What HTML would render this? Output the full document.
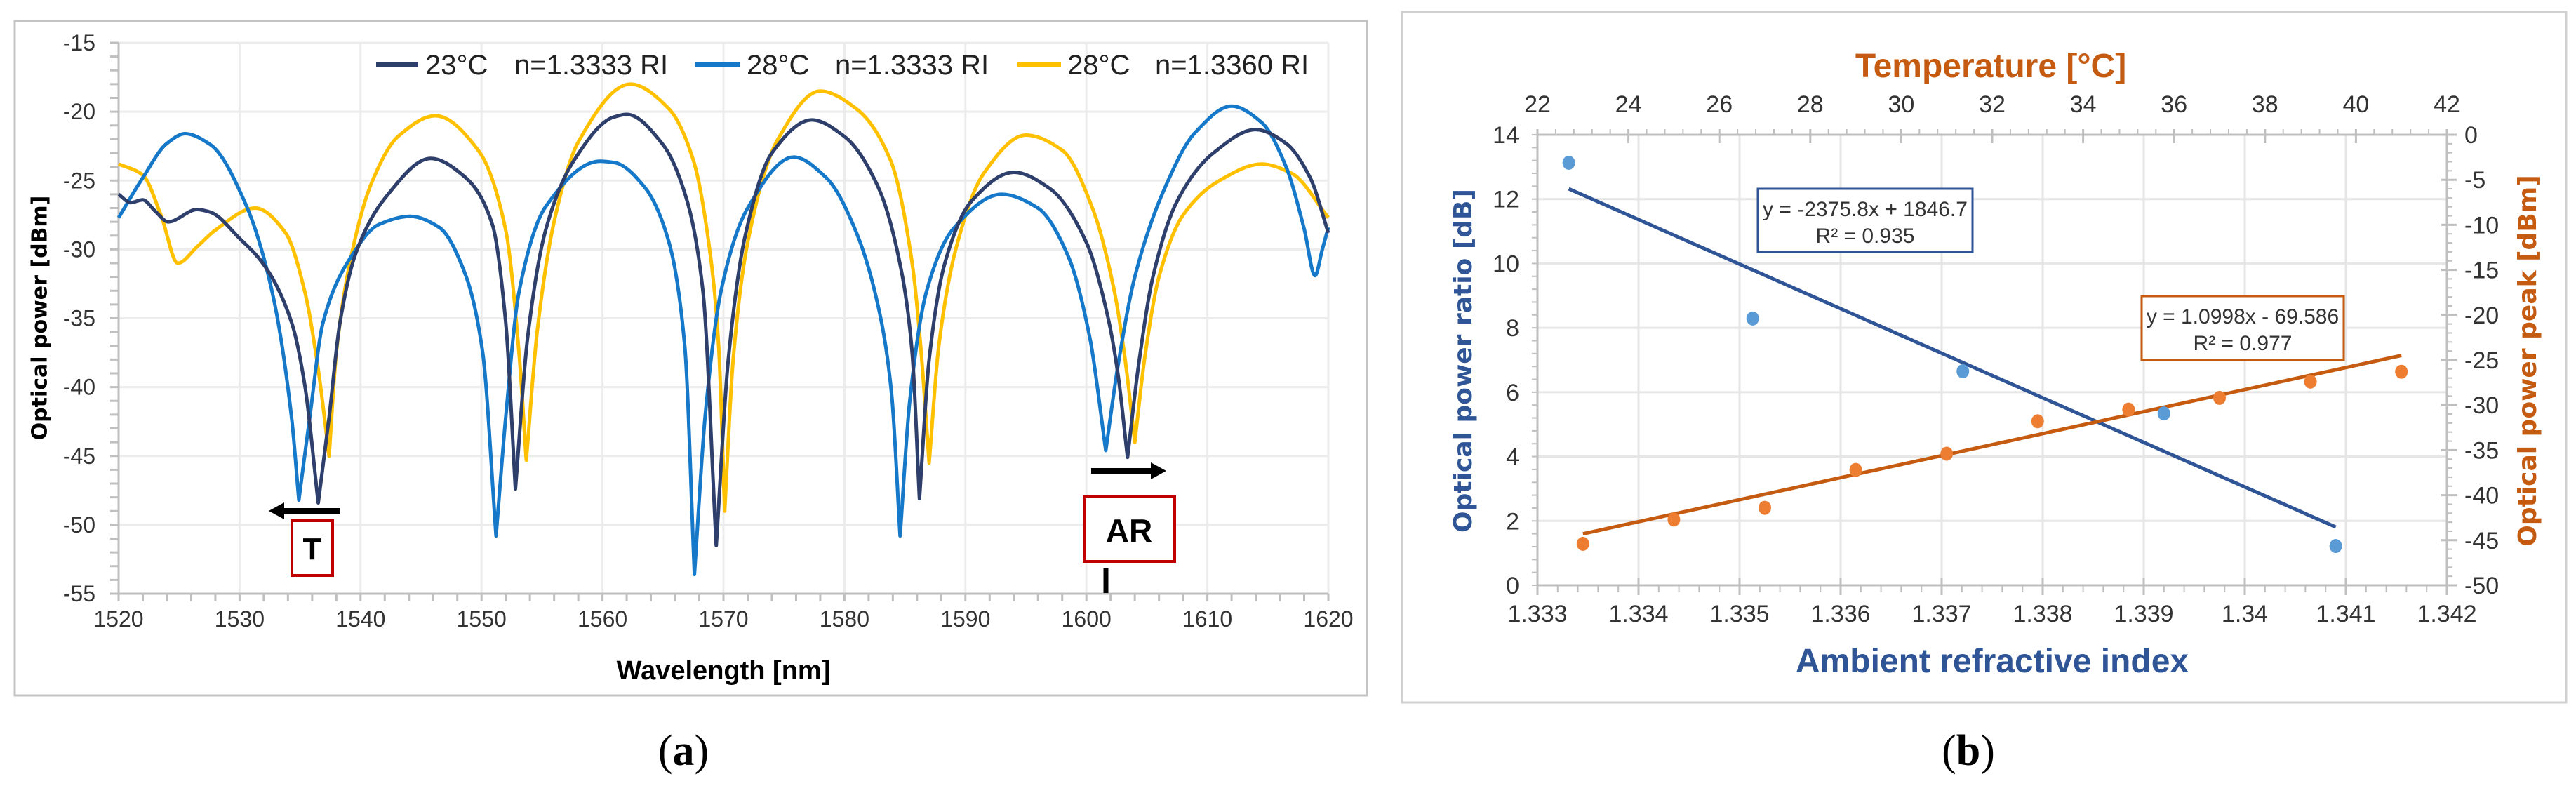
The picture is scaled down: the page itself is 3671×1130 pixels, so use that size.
<!DOCTYPE html>
<html><head><meta charset="utf-8"><style>
html,body{margin:0;padding:0;background:#fff;}
svg{display:block;}
text{font-family:"Liberation Sans Narrow","Liberation Sans",sans-serif;}
</style></head><body>
<svg id="fig" width="3671" height="1130" viewBox="0 0 3671 1130" xmlns="http://www.w3.org/2000/svg">
<rect x="0" y="0" width="3671" height="1130" fill="#fff"/>
<g id="pa">
<rect x="21" y="30" width="1927" height="961" fill="#fff" stroke="#c4c4c4" stroke-width="3"/>
<g id="pa-grid"></g>
<g id="pa-axes"></g>
<g id="pa-series"></g>
<text x="58" y="453" transform="rotate(-90 58 453)" text-anchor="middle" dominant-baseline="middle" style="font-family:'DejaVu Sans',sans-serif;font-weight:bold;font-size:30px" fill="#000">Optical power [dBm]</text>
<text x="1031" y="968" text-anchor="middle" style="font-weight:bold;font-size:38px" fill="#000">Wavelength [nm]</text>
<g style="font-size:40px" fill="#222">
<g><line x1="536" y1="92" x2="596" y2="92" stroke="#2E3F6B" stroke-width="6"/><text x="606" y="106">23°C</text><text x="733" y="106">n=1.3333 RI</text></g>
<g><line x1="991" y1="92" x2="1054" y2="92" stroke="#1578C8" stroke-width="6"/><text x="1064" y="106">28°C</text><text x="1190" y="106">n=1.3333 RI</text></g>
<g><line x1="1450" y1="92" x2="1512" y2="92" stroke="#FFC000" stroke-width="6"/><text x="1521" y="106">28°C</text><text x="1646" y="106">n=1.3360 RI</text></g>
</g>
<g>
<line x1="485" y1="728" x2="400" y2="728" stroke="#000" stroke-width="8"/>
<polygon points="383,728 405,716 405,740" fill="#000"/>
<rect x="416" y="742" width="58" height="78" fill="#fff" stroke="#C00000" stroke-width="4"/>
<text x="445" y="797" text-anchor="middle" style="font-weight:bold;font-size:44px" fill="#000">T</text>
</g>
<g>
<line x1="1555" y1="671" x2="1645" y2="671" stroke="#000" stroke-width="8"/>
<polygon points="1662,671 1640,659 1640,683" fill="#000"/>
<rect x="1545" y="708" width="129" height="92" fill="#fff" stroke="#C00000" stroke-width="4"/>
<text x="1609" y="772" text-anchor="middle" style="font-weight:bold;font-size:46px" fill="#000">AR</text>
<line x1="1576" y1="810" x2="1576" y2="845" stroke="#000" stroke-width="7"/>
</g>
<text x="974" y="1090" text-anchor="middle" style="font-family:'Liberation Serif',serif;font-size:62px" fill="#000">(<tspan font-weight="bold">a</tspan>)</text>
</g>
<g id="pb">
<rect x="1998" y="17" width="1659" height="984" fill="#fff" stroke="#d0d0d0" stroke-width="3"/>
<g id="pb-grid"></g>
<g id="pb-axes"></g>
<g id="pb-series"></g>
<text x="2837" y="110" text-anchor="middle" style="font-weight:bold;font-size:48px" fill="#C55A11">Temperature [°C]</text>
<text x="2839" y="958" text-anchor="middle" style="font-weight:bold;font-size:48px" fill="#2F5597">Ambient refractive index</text>
<text x="2087" y="514" transform="rotate(-90 2087 514)" text-anchor="middle" dominant-baseline="middle" style="font-family:'DejaVu Sans',sans-serif;font-weight:bold;font-size:36px" fill="#2F5597">Optical power ratio [dB]</text>
<text x="3604" y="514" transform="rotate(-90 3604 514)" text-anchor="middle" dominant-baseline="middle" style="font-family:'DejaVu Sans',sans-serif;font-weight:bold;font-size:36px" fill="#C55A11">Optical power peak [dBm]</text>
<g>
<rect x="2505" y="269" width="306" height="90" fill="#fff" stroke="#2F5597" stroke-width="3"/>
<text x="2658" y="308" text-anchor="middle" style="font-size:30px" fill="#333">y = -2375.8x + 1846.7</text>
<text x="2658" y="346" text-anchor="middle" style="font-size:30px" fill="#333">R² = 0.935</text>
</g>
<g>
<rect x="3052" y="422" width="288" height="91" fill="#fff" stroke="#C55A11" stroke-width="3"/>
<text x="3196" y="461" text-anchor="middle" style="font-size:30px" fill="#333">y = 1.0998x - 69.586</text>
<text x="3196" y="499" text-anchor="middle" style="font-size:30px" fill="#333">R² = 0.977</text>
</g>
<text x="2805" y="1090" text-anchor="middle" style="font-family:'Liberation Serif',serif;font-size:62px" fill="#000">(<tspan font-weight="bold">b</tspan>)</text>
</g>
</svg>
<script>
// ---------- Panel (a) data ----------
const wl23 = [1520,1521,1522,1523,1524.1,1526.5,1527.6,1530,1532,1534.3,1535.4,1536.5,1537.4,1538.3,1539.6,1542,1545.8,1548.7,1550.9,1552,1552.8,1553.8,1555.3,1557.6,1560.9,1562,1565,1567,1568.3,1569.4,1570.4,1571.8,1574,1577.3,1580,1582.8,1584.8,1585.6,1586.2,1587,1588.3,1590.5,1594,1597,1600,1601.8,1602.6,1603.4,1604.3,1605.5,1607.5,1610.5,1614,1616.5,1618.5,1620];
const pw23 = [-26,-26.6,-26.4,-27.2,-28,-27.1,-27.3,-29.2,-31.1,-35.3,-39.9,-48.4,-42.2,-35.3,-30.3,-26.3,-23.4,-24.8,-28.2,-35.3,-47.4,-36.5,-28.6,-23.6,-20.4,-20.2,-22.4,-26.5,-33,-51.5,-38,-29,-23,-20.6,-21.8,-25.5,-32,-37.5,-48.1,-38,-31,-26.5,-24.4,-25.6,-29.5,-35,-39,-45.1,-38.5,-32,-26.5,-23,-21.3,-22.3,-24.8,-28.8];
const wl28a = [1520,1522,1524,1525.5,1527.6,1530.5,1532.7,1534.3,1534.9,1535.8,1536.9,1539.1,1541.5,1544.1,1546.5,1548.7,1550.1,1551.2,1552,1553.1,1555.3,1559.8,1561,1563.5,1565.5,1566.8,1567.6,1568.5,1569.8,1572,1575.8,1578.5,1581,1583,1583.9,1584.6,1585.4,1586.8,1589,1593,1596,1598.5,1600.3,1601.6,1602.6,1604,1606.5,1609,1612,1614.5,1616.5,1618,1618.9,1619.5,1620];
const pw28a = [-27.7,-24.8,-22.3,-21.6,-22.4,-26.7,-33.1,-42.2,-48.2,-42.2,-35.3,-30.7,-28.2,-27.6,-28.4,-31.9,-37.5,-50.8,-42.2,-33.1,-26.9,-23.6,-23.7,-25.5,-29.5,-37,-53.6,-42,-33,-27,-23.3,-24.8,-28.8,-35,-40.5,-50.8,-41,-33,-28.5,-26,-27,-30.5,-36.5,-44.6,-38.5,-32,-25.5,-21.5,-19.6,-20.8,-24,-28.5,-31.9,-30,-28.4];
const wl28b = [1520,1522,1523.5,1524.9,1526.5,1528,1531.3,1533.8,1535.4,1536.5,1537.4,1538,1539.4,1540.9,1543.1,1546.2,1549.8,1552,1553.1,1553.7,1554.6,1556,1558,1562.3,1565.5,1567.5,1569,1569.6,1570.1,1570.8,1572,1574.5,1578,1581,1583.8,1585.6,1586.3,1587,1587.8,1589.2,1591.5,1595,1598,1600.5,1602.3,1603.2,1604,1604.8,1606,1608,1611,1614.5,1617,1620];
const pw28b = [-23.8,-24.6,-27.5,-31,-29.8,-28.6,-27,-28.8,-33.1,-38.7,-45,-37.5,-29.8,-25.2,-21.8,-20.3,-22.9,-28.6,-37.5,-45.3,-36,-28,-22.2,-18,-19.8,-23.5,-31,-37,-49,-38,-29.5,-22,-18.5,-19.8,-23.5,-31,-37,-45.5,-37,-30,-24.5,-21.7,-22.8,-27,-33,-38,-44,-38,-32,-27.5,-25,-23.8,-24.5,-27.7];
const aXTicks = [1520,1530,1540,1550,1560,1570,1580,1590,1600,1610,1620];
const aYTicks = [-15,-20,-25,-30,-35,-40,-45,-50,-55];
// ---------- Panel (b) data ----------
const riVals = [1.33331,1.33513,1.33721,1.3392,1.3409];
const ratioVals = [13.13,8.29,6.65,5.34,1.22];
const riFit = [1.33331,1.3409];
const ratioFit = [12.32,1.81];
const tempVals = [23,25,27,29,31,33,35,37,39,41];
const peakVals = [-45.4,-42.7,-41.4,-37.2,-35.4,-31.8,-30.5,-29.2,-27.4,-26.3];
const tempFit = [23,41];
const fitSlope = 1.0998, fitIntercept = -69.586;
const riTicks = [1.333,1.334,1.335,1.336,1.337,1.338,1.339,1.34,1.341,1.342];
const riTickLabels = ["1.333","1.334","1.335","1.336","1.337","1.338","1.339","1.34","1.341","1.342"];
const tempTicks = [22,24,26,28,30,32,34,36,38,40,42];
const ratioTicks = [0,2,4,6,8,10,12,14];
const peakTicks = [0,-5,-10,-15,-20,-25,-30,-35,-40,-45,-50];

const NS="http://www.w3.org/2000/svg";
function mk(parent,tag,attrs){const e=document.createElementNS(NS,tag);for(const k in attrs)e.setAttribute(k,attrs[k]);parent.appendChild(e);return e;}

// Panel a axes
const AX0=169,AX1=1893,AY0=61,AY1=846;
const ax=v=>AX0+(v-1520)/100*(AX1-AX0);
const ay=v=>AY0+(-15-v)/40*(AY1-AY0);
const paGrid=document.getElementById('pa-grid'),paAxes=document.getElementById('pa-axes'),paSeries=document.getElementById('pa-series');
aXTicks.forEach(t=>{
 const g=mk(paGrid,'line',{x1:ax(t),x2:ax(t),y1:AY0,y2:AY1,stroke:'#ececec','stroke-width':3});
 
 
 const l=mk(paAxes,'text',{x:ax(t),y:893,'text-anchor':'middle','font-size':32,fill:'#333'});
 l.textContent=t;
 
 
});
aYTicks.forEach(t=>{
 const g=mk(paGrid,'line',{x1:AX0,x2:AX1,y1:ay(t),y2:ay(t),stroke:'#ececec','stroke-width':3});
 
 
 const l=mk(paAxes,'text',{x:136,y:ay(t)+11,'text-anchor':'end','font-size':32,fill:'#333'});
 l.textContent=t;
 
 
});
for(let v=1520;v<=1620;v+=2){mk(paAxes,'line',{x1:ax(v),x2:ax(v),y1:AY1,y2:AY1+11,stroke:'#bfbfbf','stroke-width':3});}
for(let v=-15;v>=-55;v-=1){mk(paAxes,'line',{x1:AX0-12,x2:AX0,y1:ay(v),y2:ay(v),stroke:'#bfbfbf','stroke-width':3});}
const axB=mk(paAxes,'line',{x1:AX0,x2:AX1,y1:AY1,y2:AY1,stroke:'#bfbfbf','stroke-width':3});


const axL=mk(paAxes,'line',{x1:AX0,x2:AX0,y1:AY0,y2:AY1,stroke:'#bfbfbf','stroke-width':3});



// monotone cubic with sharp cusps at local minima (dips)
function smooth(xs,ys){
 const X=xs.map(ax),Y=ys.map(ay),n=X.length;
 const d=[],mL=new Array(n),mR=new Array(n);
 for(let i=0;i<n-1;i++)d.push((Y[i+1]-Y[i])/(X[i+1]-X[i]));
 mL[0]=mR[0]=d[0];mL[n-1]=mR[n-1]=d[n-2];
 for(let i=1;i<n-1;i++){
  const isMin = ys[i]<ys[i-1] && ys[i]<ys[i+1] && (Math.min(ys[i-1],ys[i+1])-ys[i])>3;
  if(isMin){mL[i]=d[i-1];mR[i]=d[i];continue;}
  let m;
  if(d[i-1]*d[i]<=0)m=0;
  else{const h0=X[i]-X[i-1],h1=X[i+1]-X[i];const w1=2*h1+h0,w2=h1+2*h0;m=(w1+w2)/(w1/d[i-1]+w2/d[i]);}
  mL[i]=mR[i]=m;
 }
 let p='M'+X[0].toFixed(1)+','+Y[0].toFixed(1);
 for(let i=0;i<n-1;i++){
  const h=(X[i+1]-X[i])/3;
  p+=' C'+(X[i]+h).toFixed(1)+','+(Y[i]+mR[i]*h).toFixed(1)+' '+(X[i+1]-h).toFixed(1)+','+(Y[i+1]-mL[i+1]*h).toFixed(1)+' '+X[i+1].toFixed(1)+','+Y[i+1].toFixed(1);
 }
 return p;
}
const sb=mk(paSeries,'path',{d:smooth(wl28b,pw28b),fill:'none',stroke:'#FFC000','stroke-width':5,'stroke-linejoin':'round'});


const sa=mk(paSeries,'path',{d:smooth(wl28a,pw28a),fill:'none',stroke:'#1578C8','stroke-width':5,'stroke-linejoin':'round'});


const s23=mk(paSeries,'path',{d:smooth(wl23,pw23),fill:'none',stroke:'#2E3F6B','stroke-width':5,'stroke-linejoin':'round'});



// Panel b axes
const BX0=2191,BX1=3487,BY0=192,BY1=834;
const bx=v=>BX0+(v-1.333)/0.009*(BX1-BX0);
const bt=v=>BX0+(v-22)/20*(BX1-BX0);
const by=v=>BY1-v/14*(BY1-BY0);
const bp=v=>BY0+(-v)/50*(BY1-BY0);
const pbGrid=document.getElementById('pb-grid'),pbAxes=document.getElementById('pb-axes'),pbSeries=document.getElementById('pb-series');
riTicks.forEach((t,i)=>{
 const g=mk(pbGrid,'line',{x1:bx(t),x2:bx(t),y1:BY0,y2:BY1,stroke:'#e6e6e6','stroke-width':3});
 
 
 mk(pbAxes,'line',{x1:bx(t),x2:bx(t),y1:BY1-10,y2:BY1+14,stroke:'#bfbfbf','stroke-width':3});
 const l=mk(pbAxes,'text',{x:bx(t),y:886,'text-anchor':'middle','font-size':34,fill:'#333'});
 l.textContent=riTickLabels[i];
 
 
});
for(let k=0;k<=45;k++){const v=1.333+k*0.0002;mk(pbAxes,'line',{x1:bx(v),x2:bx(v),y1:BY1,y2:BY1+10,stroke:'#bfbfbf','stroke-width':2});}
tempTicks.forEach(t=>{
 mk(pbAxes,'line',{x1:bt(t),x2:bt(t),y1:BY0-8,y2:BY0+12,stroke:'#bfbfbf','stroke-width':3});
 const l=mk(pbAxes,'text',{x:bt(t),y:160,'text-anchor':'middle','font-size':34,fill:'#333'});
 l.textContent=t;
 
 
});
for(let k=0;k<=50;k++){const v=22+k*0.4;mk(pbAxes,'line',{x1:bt(v),x2:bt(v),y1:BY0-8,y2:BY0,stroke:'#bfbfbf','stroke-width':2});}
ratioTicks.forEach(t=>{
 const g=mk(pbGrid,'line',{x1:BX0,x2:BX1,y1:by(t),y2:by(t),stroke:'#e6e6e6','stroke-width':3});
 
 
 const l=mk(pbAxes,'text',{x:2165,y:by(t)+12,'text-anchor':'end','font-size':34,fill:'#333'});
 l.textContent=t;
 
 
});
for(let k=0;k<=35;k++){const v=k*0.4;mk(pbAxes,'line',{x1:BX0-8,x2:BX0,y1:by(v),y2:by(v),stroke:'#bfbfbf','stroke-width':2});}
peakTicks.forEach(t=>{
 mk(pbAxes,'line',{x1:BX1-8,x2:BX1+14,y1:bp(t),y2:bp(t),stroke:'#bfbfbf','stroke-width':3});
 const l=mk(pbAxes,'text',{x:3512,y:bp(t)+12,'text-anchor':'start','font-size':34,fill:'#333'});
 l.textContent=t;
 
 
});
for(let k=0;k<=50;k++){mk(pbAxes,'line',{x1:BX1,x2:BX1+8,y1:bp(-k),y2:bp(-k),stroke:'#bfbfbf','stroke-width':2});}
[[BX0,BY1,BX1,BY1],[BX0,BY0,BX1,BY0],[BX0,BY0,BX0,BY1],[BX1,BY0,BX1,BY1]].forEach(a=>{mk(pbAxes,'line',{x1:a[0],y1:a[1],x2:a[2],y2:a[3],stroke:'#bfbfbf','stroke-width':3});});

const tb=mk(pbSeries,'line',{x1:bx(riFit[0]),y1:by(ratioFit[0]),x2:bx(riFit[1]),y2:by(ratioFit[1]),stroke:'#2F5597','stroke-width':5});


const to=mk(pbSeries,'line',{x1:bt(tempFit[0]),y1:bp(fitSlope*tempFit[0]+fitIntercept),x2:bt(tempFit[1]),y2:bp(fitSlope*tempFit[1]+fitIntercept),stroke:'#C55A11','stroke-width':5});


riVals.forEach((r,i)=>{
 const c=mk(pbSeries,'ellipse',{cx:bx(r),cy:by(ratioVals[i]),rx:9,ry:10,fill:'#5B9BD5'});
 
 
});
tempVals.forEach((t,i)=>{
 const c=mk(pbSeries,'ellipse',{cx:bt(t),cy:bp(peakVals[i]),rx:9,ry:10,fill:'#ED7D31'});
 
 
});
</script>
</body></html>
